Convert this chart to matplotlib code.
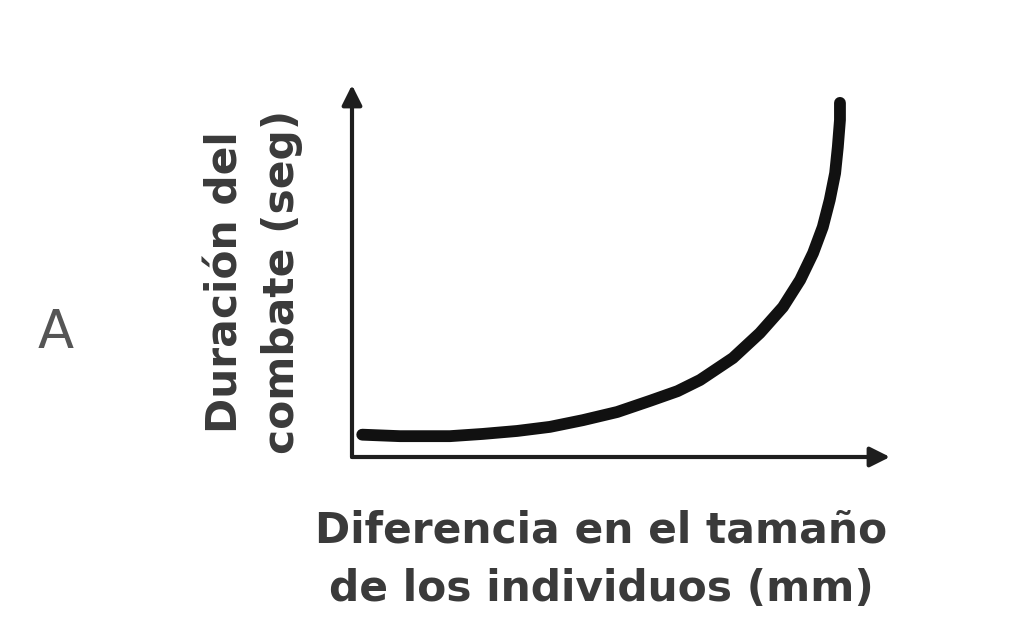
import matplotlib
matplotlib.use("Agg")
import matplotlib.pyplot as plt

# curve (arbitrary units, axes 0..10)
diff_size = [0.19, 0.89, 1.82, 2.43, 3.07, 3.68, 4.29, 4.93, 5.54, 6.05, 6.47,
             7.08, 7.58, 8.01, 8.33, 8.57, 8.75, 8.88, 8.98, 9.03, 9.07, 9.07]
duration = [0.60, 0.56, 0.56, 0.62, 0.70, 0.81, 0.99, 1.21, 1.51, 1.77, 2.07,
            2.66, 3.33, 4.03, 4.76, 5.48, 6.18, 6.91, 7.63, 8.33, 9.06, 9.52]

xlabel = "Diferencia en el tamaño\nde los individuos (mm)"
ylabel = "Duración del\ncombate (seg)"
panel = "A"

W, H = 1027, 643
fig = plt.figure(figsize=(W / 100, H / 100), dpi=100)
ax = fig.add_axes([352 / W, 1 - 457 / H, (890 - 352) / W, (457 - 85) / H])
ax.set_xlim(0, 10); ax.set_ylim(0, 10)
ax.axis("off")

axis_col = "#1e1e1e"
arrow = dict(arrowstyle="-|>", lw=3, color=axis_col, mutation_scale=30,
             shrinkA=0, shrinkB=0)
ax.annotate("", xy=(10, 0), xytext=(0, 0), arrowprops=arrow, annotation_clip=False)
ax.annotate("", xy=(0, 10), xytext=(0, 0), arrowprops=arrow, annotation_clip=False)

ax.plot(diff_size, duration, color="#111111", lw=8.5, solid_capstyle="round",
        solid_joinstyle="round", clip_on=False)

txt_col = "#3a3a3a"
fig.text(601 / W, 1 - 560 / H, xlabel, ha="center", va="center", fontsize=30.5,
         fontweight="bold", color=txt_col, linespacing=1.5)
fig.text(254 / W, 1 - 282 / H, ylabel, ha="center", va="center", fontsize=30.5,
         fontweight="bold", color=txt_col, rotation=90, linespacing=1.45)
fig.text(56 / W, 1 - 333 / H, panel, ha="center", va="center", fontsize=38,
         color="#555555")

fig.savefig("out.png", dpi=100)
